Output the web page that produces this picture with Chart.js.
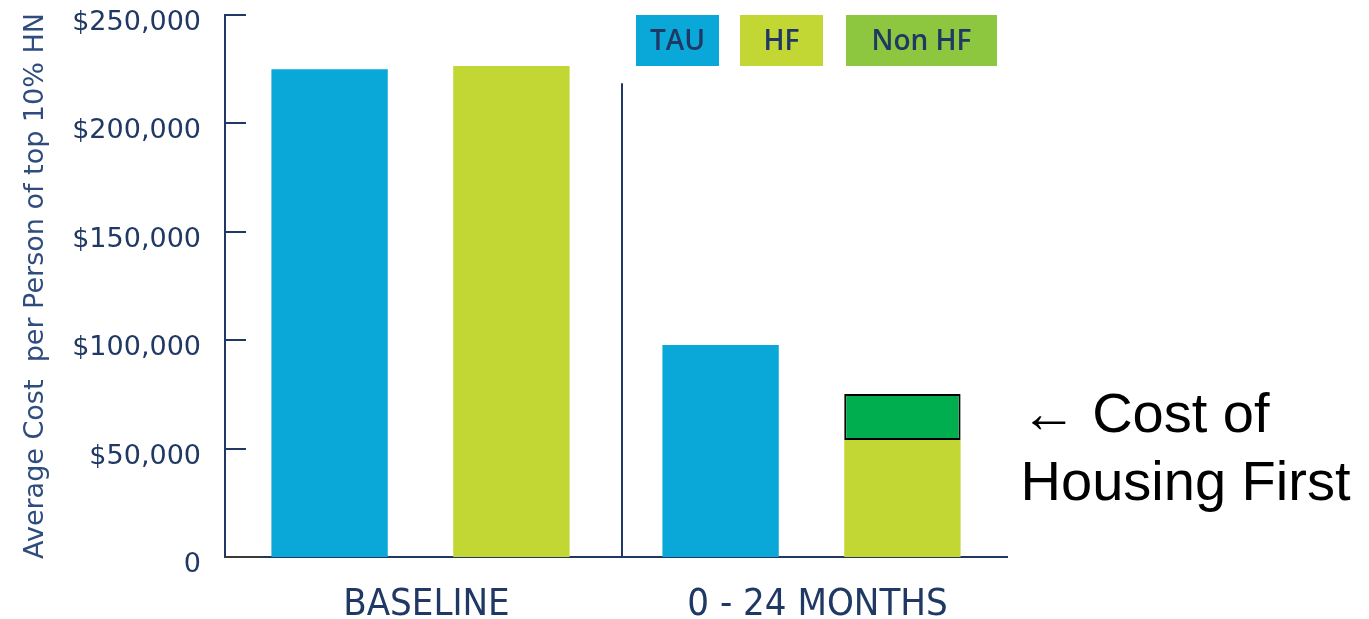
<!DOCTYPE html>
<html>
<head>
<meta charset="utf-8">
<script src="https://cdn.jsdelivr.net/npm/chart.js@4.4.1/dist/chart.umd.min.js"></script>
<style>
  html, body { margin: 0; padding: 0; background: #ffffff; }
  #wrap { width: 1369px; height: 619px; }
</style>
</head>
<body>
<div id="wrap"><canvas id="c" width="1369" height="619"></canvas></div>
<script>
// ---- data ----
const categories = ['BASELINE', '0 - 24 MONTHS'];
const tauValues = [225000, 97800];
const hfValues = [226500, 54000];
const housingFirstCost = [null, 21200];
const yTicks = [0, 50000, 100000, 150000, 200000, 250000];
const legendLabels = ['TAU', 'HF', 'Non HF'];
const legendColors = ['#0AA8D8', '#C2D733', '#8DC63F'];
const annotationLines = ['\u2190 Cost of', 'Housing First'];
const yTitle = 'Average Cost  per Person of top 10% HN';

const NAVY = '#1F3864';

const extrasPlugin = {
  id: 'extras',
  afterDraw(chart) {
    const ctx = chart.ctx;
    const x = chart.scales.x, y = chart.scales.y;
    const area = chart.chartArea;
    ctx.save();
    // inward tick marks on y axis
    ctx.strokeStyle = NAVY;
    ctx.lineWidth = 2;
    yTicks.forEach(v => {
      if (v === 0) return;
      const py = Math.round(y.getPixelForValue(v));
      ctx.beginPath();
      ctx.moveTo(area.left, py);
      ctx.lineTo(area.left + 21, py);
      ctx.stroke();
    });
    // darker start of the x axis line
    ctx.strokeStyle = '#3a3a3a';
    ctx.beginPath();
    ctx.moveTo(area.left, area.bottom);
    ctx.lineTo(area.left + 38, area.bottom);
    ctx.stroke();
    // divider between categories
    ctx.strokeStyle = NAVY;
    const dx = Math.round((x.getPixelForTick(0) + x.getPixelForTick(1)) / 2) + 6;
    ctx.beginPath();
    ctx.moveTo(dx, y.getPixelForValue(218500));
    ctx.lineTo(dx, y.getPixelForValue(0));
    ctx.stroke();

    // legend boxes
    const boxes = [[636, 719], [740, 823], [846, 997]];
    ctx.font = '600 28px "Open Sans"';
    ctx.textAlign = 'center';
    ctx.textBaseline = 'middle';
    legendLabels.forEach((lab, i) => {
      const [x0, x1] = boxes[i];
      ctx.fillStyle = legendColors[i];
      ctx.fillRect(x0, 15, x1 - x0, 51);
      ctx.fillStyle = NAVY;
      ctx.fillText(lab, (x0 + x1) / 2, 42);
    });

    // annotation next to the housing-first block
    const meta = chart.getDatasetMeta(2);
    const el = meta.data[1];
    if (el) {
      const ax = el.x + el.width / 2 + 60;
      const ay = el.y;
      ctx.fillStyle = '#000000';
      ctx.textAlign = 'left';
      ctx.textBaseline = 'alphabetic';
      ctx.font = '56px "Liberation Sans", Arial, sans-serif';
      ctx.fillText(annotationLines[0], ax, ay + 38);
      ctx.fillText(annotationLines[1], ax, ay + 106);
    }
    ctx.restore();
  }
};

new Chart(document.getElementById('c'), {
  type: 'bar',
  data: {
    labels: categories,
    datasets: [
      { label: 'TAU', data: tauValues, backgroundColor: '#0AA8D8', stack: 'tau' },
      { label: 'HF', data: hfValues, backgroundColor: '#C2D733', stack: 'hf' },
      { label: 'Cost of Housing First', data: housingFirstCost, backgroundColor: '#00AE4F',
        borderColor: '#000000', borderWidth: 2, borderSkipped: false, stack: 'hf' }
    ]
  },
  options: {
    responsive: false,
    animation: false,
    events: [],
    layout: { padding: { left: 0, right: 362, top: 15, bottom: 0 } },
    categoryPercentage: 0.93,
    barPercentage: 0.64,
    plugins: { legend: { display: false }, tooltip: { enabled: false } },
    scales: {
      x: {
        stacked: true,
        grid: { display: false },
        border: { display: true, color: NAVY, width: 2 },
        ticks: {
          color: NAVY,
          padding: 17,
          labelOffset: 6,
          font: { family: '"Liberation Sans Narrow", "DejaVu Sans Condensed", sans-serif', size: 38 }
        },
        afterFit(scale) { scale.height = 619 - 557; scale.paddingLeft = 0; scale.paddingRight = 0; }
      },
      y: {
        stacked: true,
        min: 0, max: 250000,
        afterBuildTicks(scale) { scale.ticks = yTicks.map(v => ({ value: v })); },
        grid: { display: false },
        border: { display: true, color: NAVY, width: 2 },
        ticks: {
          color: NAVY,
          padding: 16,
          labelOffset: 8,
          font: { family: '"DejaVu Sans"', size: 27 },
          callback: v => v === 0 ? '0' : '$' + v.toLocaleString('en-US')
        },
        title: {
          display: true,
          text: yTitle,
          color: '#2E4C7E',
          padding: { top: 20, bottom: 0 },
          font: { family: '"DejaVu Sans"', size: 27 }
        },
        afterFit(scale) { scale.width = 225; scale.paddingTop = 0; scale.paddingBottom = 0; }
      }
    }
  },
  plugins: [extrasPlugin]
});
</script>
</body>
</html>
